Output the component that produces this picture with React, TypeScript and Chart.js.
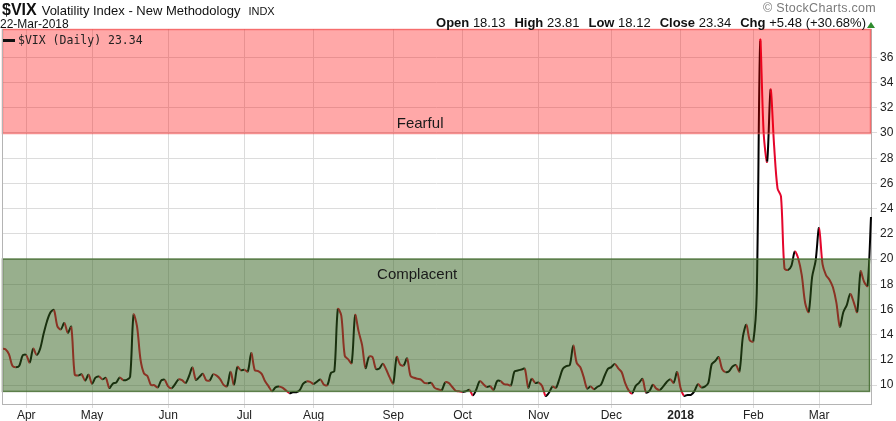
import React, { useEffect, useRef } from 'react';
import { Chart, registerables } from 'chart.js';

Chart.register(...registerables);

// ---- DATA (daily VIX closes, Mar 23 2017 – Mar 22 2018) ----
const vixMar17 = [12.9, 12.85, 12.45, 11.53, 11.42, 11.54, 12.37];
const vixApr17 = [12.38, 11.79, 12.89, 12.39, 12.87, 14.05, 15.07, 15.77, 15.96, 14.66, 14.42, 14.93, 14.15, 14.63, 10.84, 10.76, 10.85, 10.36, 10.82];
const vixMay17 = [10.11, 10.59, 10.68, 10.46, 10.57, 9.77, 10.11, 10.21, 10.6, 10.4, 10.42, 10.65, 15.59, 14.66, 12.04, 10.93, 10.72, 10.02, 9.99, 9.81, 10.38, 10.41];
const vixJun17 = [9.89, 9.75, 10.07, 10.45, 10.39, 10.16, 10.7, 11.4, 10.42, 10.64, 10.9, 10.38, 10.37, 10.86, 10.75, 10.48, 10.02, 9.9, 11.06, 10.03, 11.44, 11.18];
const vixJul17 = [11.22, 11.07, 12.54, 11.19, 11.11, 10.89, 10.3, 9.9, 9.51, 9.82, 9.89, 9.79, 9.58, 9.36, 9.43, 9.43, 9.6, 10.11, 10.29, 10.26];
const vixAug17 = [10.09, 10.28, 10.44, 10.03, 10.0, 10.96, 11.11, 16.04, 15.51, 12.33, 12.04, 11.74, 15.55, 14.26, 13.19, 11.35, 12.25, 12.23, 11.28, 11.32, 11.7, 11.22, 10.59];
const vixSep17 = [10.13, 12.23, 11.63, 11.55, 12.12, 10.73, 10.58, 10.5, 10.44, 10.17, 10.15, 10.18, 9.78, 9.67, 9.59, 10.21, 10.17, 9.87, 9.55, 9.51];
const vixOct17 = [9.45, 9.51, 9.63, 9.19, 9.65, 10.33, 10.08, 9.85, 9.91, 9.61, 10.31, 10.31, 10.07, 10.05, 9.97, 11.07, 11.16, 11.23, 11.3, 9.8, 10.5, 10.18];
const vixNov17 = [10.2, 9.93, 9.14, 9.4, 9.89, 9.78, 10.5, 11.29, 11.5, 11.59, 13.13, 11.76, 11.43, 10.65, 9.73, 9.88, 9.67, 9.87, 10.03, 10.7, 11.28];
const vixDec17 = [11.43, 11.68, 11.33, 11.02, 10.16, 9.58, 9.34, 9.92, 10.18, 10.49, 9.42, 9.53, 10.03, 9.72, 9.62, 9.9, 10.25, 10.47, 10.18, 11.04];
const vixJan18 = [9.77, 9.15, 9.22, 9.22, 9.52, 10.08, 9.82, 9.88, 10.16, 11.66, 11.91, 12.22, 11.27, 11.03, 11.1, 11.47, 11.58, 11.08, 13.84, 14.79, 13.54];
const vixFeb18 = [13.47, 17.31, 37.32, 29.98, 27.73, 33.46, 29.06, 25.61, 24.97, 19.26, 19.13, 19.46, 20.6, 20.02, 18.72, 16.49, 15.8, 18.59, 19.85];
const vixMar18 = [22.47, 19.59, 18.73, 18.36, 17.76, 16.54, 14.64, 15.78, 16.35, 17.23, 16.59, 15.8, 19.02, 18.2, 17.86, 23.34];

const monthTags = ['', 'Apr', 'May', 'Jun', 'Jul', 'Aug', 'Sep', 'Oct', 'Nov', 'Dec', '2018', 'Feb', 'Mar'];
const yTickValues = [10, 12, 14, 16, 18, 20, 22, 24, 26, 28, 30, 32, 34, 36];
const yMin = 8.5;
const yMax = 38.25;
const fearfulLevel = 30;
const complacentLevel = 20;
const complacentFloor = 9.5;

const quoteLabels = ['Open', 'High', 'Low', 'Close', 'Chg'];
const quoteValues = ['18.13', '23.81', '18.12', '23.34', '+5.48 (+30.68%)'];

const monthly = [vixMar17, vixApr17, vixMay17, vixJun17, vixJul17, vixAug17, vixSep17, vixOct17, vixNov17, vixDec17, vixJan18, vixFeb18, vixMar18];
const values: number[] = [];
const pointLabels: string[] = [];
const tickText: string[] = [];
const monthStarts: number[] = [];
monthly.forEach((arr, m) => {
  if (m > 0) monthStarts.push(values.length);
  arr.forEach((v, i) => {
    values.push(v);
    pointLabels.push(monthTags[m] || 'Mar 2017');
    tickText.push(i === 0 ? monthTags[m] : '');
  });
});

const UP = '#000000';
const DOWN = '#e4062c';
const GRID = '#dcdcdc';
const FRAME = '#b4b4b4';
const FONT = '"Liberation Sans", Arial, sans-serif';

const bandsPlugin = {
  id: 'bands',
  afterDatasetsDraw(chart: any) {
    const { ctx, chartArea: a, scales } = chart;
    const y = scales.y;
    const yF = y.getPixelForValue(fearfulLevel);
    const yC = y.getPixelForValue(complacentLevel);
    const yB = y.getPixelForValue(complacentFloor);
    ctx.save();
    // Fearful band
    ctx.fillStyle = 'rgba(255,0,0,0.34)';
    ctx.fillRect(a.left, a.top, a.width, yF - a.top);
    ctx.strokeStyle = 'rgba(240,70,70,0.6)';
    ctx.lineWidth = 1.5;
    ctx.strokeRect(a.left + 0.5, a.top + 0.5, a.width - 1, yF - a.top);
    // Complacent band
    ctx.fillStyle = 'rgba(50,96,28,0.5)';
    ctx.fillRect(a.left, yC, a.width - 1, yB - yC);
    ctx.strokeStyle = 'rgba(70,110,50,0.85)';
    ctx.lineWidth = 1.5;
    ctx.strokeRect(a.left + 0.5, yC, a.width - 2, yB - yC);
    // labels
    ctx.fillStyle = '#1a1a1a';
    ctx.font = '15px ' + FONT;
    ctx.textAlign = 'center';
    ctx.textBaseline = 'alphabetic';
    const cx = a.left + a.width * 0.48;
    ctx.fillText('Fearful', cx + 1, yF - 5);
    ctx.fillText('Complacent', cx - 2, yC + 20);
    // frame left
    ctx.strokeStyle = FRAME;
    ctx.lineWidth = 1;
    ctx.beginPath();
    ctx.moveTo(a.left + 0.5, a.top);
    ctx.lineTo(a.left + 0.5, a.bottom);
    ctx.stroke();
    ctx.restore();
  },
};

export default function App() {
  const ref = useRef<HTMLCanvasElement>(null);
  useEffect(() => {
    const chart = new Chart(ref.current as HTMLCanvasElement, {
      type: 'line',
      data: {
        labels: pointLabels,
        datasets: [
          {
            data: values,
            borderColor: UP,
            borderWidth: 2,
            pointRadius: 0,
            tension: 0.3,
            fill: false,
            segment: {
              borderColor: (c: any) => (c.p1.parsed.y >= c.p0.parsed.y ? UP : DOWN),
            },
          } as any,
        ],
      },
      options: {
        responsive: false,
        animation: false,
        events: [],
        layout: { padding: { left: 2, top: 29, right: 0, bottom: 0 } },
        plugins: { legend: { display: false }, tooltip: { enabled: false } },
        scales: {
          x: {
            type: 'category',
            afterBuildTicks: (axis: any) => {
              axis.ticks = monthStarts.map((i) => ({ value: i }));
            },
            afterFit: (s: any) => {
              s.height = 17;
            },
            grid: { color: GRID, tickLength: 4 },
            border: { display: true, color: FRAME },
            ticks: {
              autoSkip: false,
              maxRotation: 0,
              padding: 0,
              color: '#222',
              font: (c: any) => ({
                family: FONT,
                size: 12,
                weight: c.tick && tickText[c.tick.value] === '2018' ? 'bold' : 'normal',
              }),
              callback: (v: any) => tickText[v],
            },
          },
          y: {
            position: 'right',
            min: yMin,
            max: yMax,
            afterBuildTicks: (axis: any) => {
              axis.ticks = yTickValues.map((v) => ({ value: v }));
            },
            afterFit: (s: any) => {
              s.width = 25;
            },
            grid: { color: GRID, tickLength: 6 },
            border: { display: true, color: FRAME },
            ticks: { padding: 3, color: '#222', font: { family: FONT, size: 12 } },
          },
        },
      } as any,
      plugins: [bandsPlugin],
    });
    return () => chart.destroy();
  }, []);

  return (
    <div
      style={{
        position: 'fixed',
        left: 0,
        top: 0,
        width: 896,
        height: 421,
        background: '#fff',
        fontFamily: FONT,
        color: '#111',
        overflow: 'hidden',
      }}
    >
      <canvas ref={ref} width={896} height={421} style={{ position: 'absolute', left: 0, top: 0 }} />
      <div style={{ position: 'absolute', left: 2, top: 0, whiteSpace: 'nowrap', lineHeight: '19px' }}>
        <span style={{ fontWeight: 'bold', fontSize: 16 }}>$VIX</span>
        <span style={{ fontSize: 13, marginLeft: 5 }}>Volatility Index - New Methodology</span>
        <span style={{ fontSize: 11, marginLeft: 8 }}>INDX</span>
      </div>
      <div style={{ position: 'absolute', left: 0, top: 17, fontSize: 12, whiteSpace: 'nowrap' }}>22-Mar-2018</div>
      <div style={{ position: 'absolute', right: 20, top: 1, fontSize: 12.5, color: '#7a7a7a', whiteSpace: 'nowrap', letterSpacing: 0.3 }}>
        © StockCharts.com
      </div>
      <div style={{ position: 'absolute', right: 30, top: 16, fontSize: 13, whiteSpace: 'nowrap', lineHeight: '14px' }}>
        {quoteLabels.map((lab, i) => (
          <span key={lab} style={{ marginLeft: i === 0 ? 0 : 9 }}>
            <b style={{ fontSize: 13 }}>{lab}</b> {quoteValues[i]}
          </span>
        ))}
      </div>
      <div
        style={{
          position: 'absolute',
          left: 867,
          top: 22,
          width: 0,
          height: 0,
          borderLeft: '4px solid transparent',
          borderRight: '4px solid transparent',
          borderBottom: '6px solid #2e8b2e',
        }}
      />
      <div
        style={{
          position: 'absolute',
          left: 3,
          top: 33,
          whiteSpace: 'nowrap',
          fontFamily: '"DejaVu Sans Mono", monospace',
          fontSize: 11.5,
          color: '#222',
          display: 'flex',
          alignItems: 'center',
        }}
      >
        <span style={{ display: 'inline-block', width: 12, height: 3, background: '#111', marginRight: 3 }} />
        <span>$VIX (Daily) 23.34</span>
      </div>
    </div>
  );
}
